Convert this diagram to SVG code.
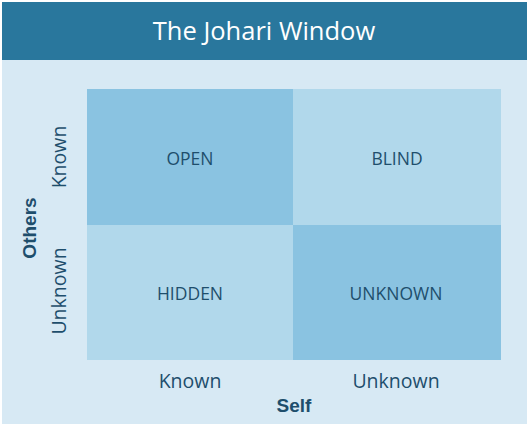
<svg xmlns="http://www.w3.org/2000/svg" width="529" height="429" viewBox="0 0 529 429">
<style>
.cell text{font-family:"Open Sans","Liberation Sans",sans-serif;font-size:17.5px;fill:#1E4E6C;text-anchor:middle}
.ax{font-family:"Open Sans","Liberation Sans",sans-serif;font-size:19.5px;fill:#1E4E6C;text-anchor:middle}
.axb{font-family:"Liberation Sans",Arial,sans-serif;font-size:19px;font-weight:bold;fill:#1E4E6C;text-anchor:middle}
.dark{fill:#8AC3E1}
.light{fill:#B1D8EB}
</style>
<rect x="0" y="0" width="529" height="429" fill="#ffffff"/>
<rect x="2" y="2" width="525" height="422" fill="#D7E9F4"/>
<g id="header">
<rect x="2" y="2" width="525" height="58" fill="#29779D"/>
<text x="264" y="40" font-family="Open Sans,Liberation Sans,sans-serif" font-size="25.5" fill="#ffffff" text-anchor="middle">The Johari Window</text>
</g>
<g id="open" class="cell"><rect class="dark" x="87" y="89" width="206" height="136"/><text x="190" y="165">OPEN</text></g>
<g id="blind" class="cell"><rect class="light" x="293" y="89" width="208" height="136"/><text x="397" y="165">BLIND</text></g>
<g id="hidden" class="cell"><rect class="light" x="87" y="225" width="206" height="135"/><text x="190" y="300">HIDDEN</text></g>
<g id="unknown" class="cell"><rect class="dark" x="293" y="225" width="208" height="135"/><text x="396" y="300">UNKNOWN</text></g>
<g id="connectors"></g>
<g id="labels">
<text class="ax" x="190" y="388">Known</text>
<text class="ax" x="396" y="388">Unknown</text>
<text class="axb" x="294" y="412">Self</text>
<text class="ax" transform="translate(66,157) rotate(-90)">Known</text>
<text class="ax" transform="translate(66,291) rotate(-90)">Unknown</text>
<text class="axb" transform="translate(36,228) rotate(-90)">Others</text>
</g>
</svg>
